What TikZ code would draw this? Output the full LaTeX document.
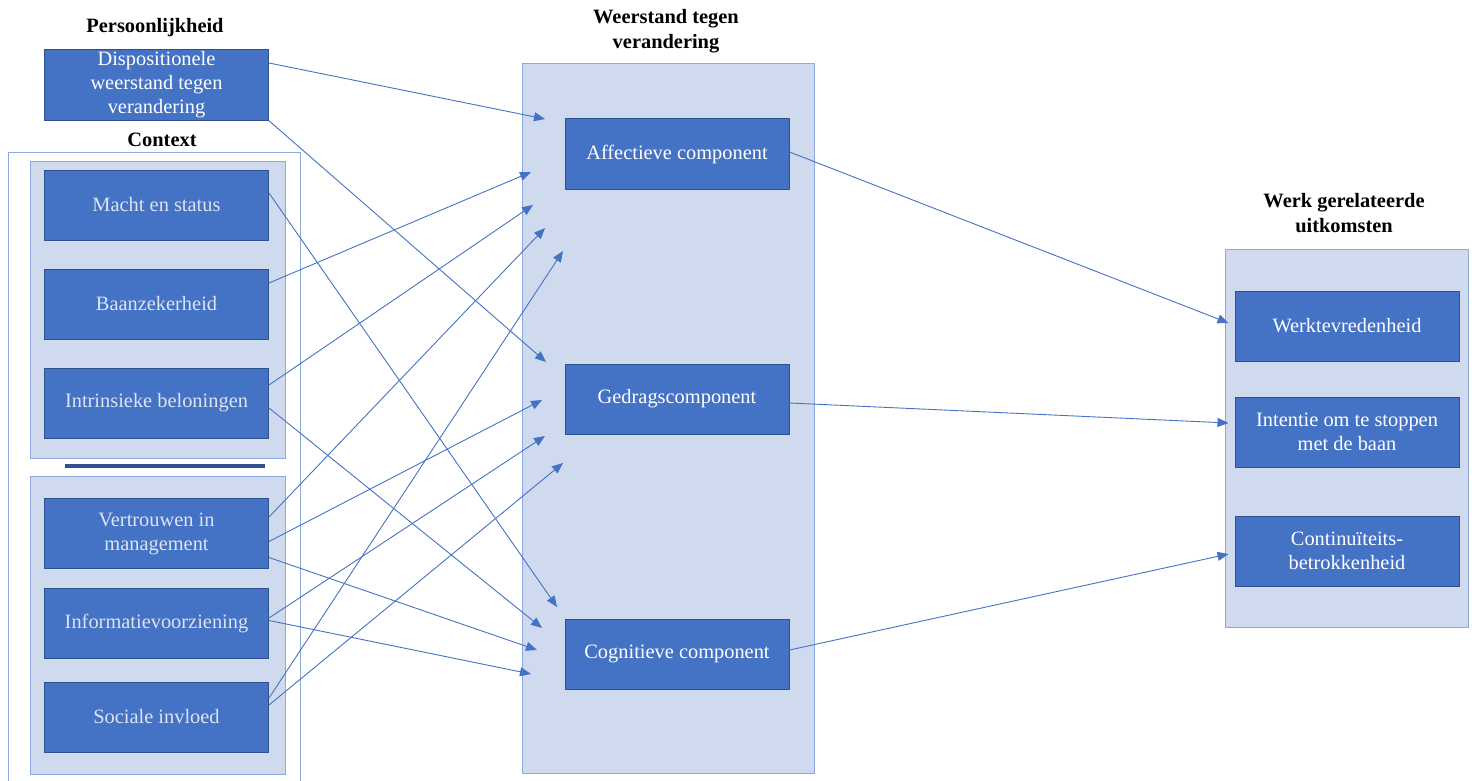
\documentclass[tikz,border=0pt]{standalone}
\usepackage{fontspec}
\setmainfont{Liberation Serif}
\usetikzlibrary{arrows.meta,calc}

\definecolor{boxblue}{HTML}{4472C4}
\definecolor{boxedge}{HTML}{2F528F}
\definecolor{panel}{HTML}{CFDAEE}
\definecolor{paneledge}{HTML}{8EA9DB}
\definecolor{ctxtext}{HTML}{DCE4F2}

\tikzset{
  comp/.style={rectangle, fill=boxblue, draw=boxedge, line width=0.5pt,
    text=white, align=center, minimum width=112pt, minimum height=35pt,
    inner sep=1pt, font=\fontsize{10.2}{12}\selectfont},
  ctx/.style={comp, text=ctxtext},
  kop/.style={align=center, inner sep=0pt, font=\fontsize{10.2}{12.5}\selectfont\bfseries},
  grp/.style={fill=panel, draw=paneledge, line width=0.5pt},
  pijl/.style={draw=boxblue, line width=0.45pt, -{Triangle[length=5.5pt,width=4.5pt]}}
}

\begin{document}
\begin{tikzpicture}[x=0.5pt,y=-0.5pt]
\useasboundingbox (0,0) rectangle (1472,781);

% Draw the panels
        \draw[paneledge, line width=0.5pt] (8,790) -- (8,152) -- (300,152) -- (300,790);
        \draw[grp] (30,161) rectangle (285,458);
        \draw[grp] (30,476) rectangle (285,774);
        \draw[boxedge, line width=1.6pt] (65,466) -- (265,466);
        \draw[grp] (522,64) rectangle (814,773);
        \draw[grp] (1225,249) rectangle (1468,627);

% Draw the titles
        \node[kop] (tpers) at (155,28) {Persoonlijkheid};
        \node[kop] (tctx) at (162,140) {Context};
        \node[kop] (tweer) at (666,31) {Weerstand tegen\\verandering};
        \node[kop] (twerk) at (1344,213) {Werk gerelateerde\\uitkomsten};

% Draw nodes
        \node[comp] (disp) at (156.5,85) {Dispositionele\\weerstand tegen\\verandering};
        \node[ctx] (macht) at (156.5,205) {Macht en status};
        \node[ctx] (baan) at (156.5,304) {Baanzekerheid};
        \node[ctx] (intr) at (156.5,403) {Intrinsieke beloningen};
        \node[ctx] (vert) at (156.5,533.5) {Vertrouwen in\\management};
        \node[ctx] (info) at (156.5,623.5) {Informatievoorziening};
        \node[ctx] (soc) at (156.5,717) {Sociale invloed};

        \node[comp] (aff) at (677,154) {Affectieve component};
        \node[comp] (gedrag) at (677,399) {Gedragscomponent};
        \node[comp] (cogn) at (677,654) {Cognitieve component};

        \node[comp] (tevr) at (1347,326) {Werktevredenheid};
        \node[comp] (stop) at (1347,432) {Intentie om te stoppen\\met de baan};
        \node[comp] (cont) at (1347,551) {Continuïteits-\\betrokkenheid};

% Arrow ends
        \coordinate (a1) at (545,119);
        \coordinate (a2) at (531,172);
        \coordinate (a3) at (533,205);
        \coordinate (a4) at (545,228);
        \coordinate (a5) at (563,251);
        \coordinate (g1) at (546,362);
        \coordinate (g2) at (542,400);
        \coordinate (g3) at (545,436);
        \coordinate (g4) at (563,463);
        \coordinate (c1) at (557,607);
        \coordinate (c2) at (542,628);
        \coordinate (c3) at (537,650);
        \coordinate (c4) at (531,674);

% Draw the arrows
        \draw[pijl] ($(disp.east)+(0,-22)$) -- (a1);
        \draw[pijl] (disp.south east) -- (g1);
        \draw[pijl] ($(macht.east)+(0,-12)$) -- (c1);
        \draw[pijl] ($(baan.east)+(0,-21)$) -- (a2);
        \draw[pijl] ($(intr.east)+(0,-18)$) -- (a3);
        \draw[pijl] ($(intr.east)+(0,5)$) -- (c2);
        \draw[pijl] ($(vert.east)+(0,-16.5)$) -- (a4);
        \draw[pijl] ($(vert.east)+(0,8)$) -- (g2);
        \draw[pijl] ($(vert.east)+(0,24)$) -- (c3);
        \draw[pijl] ($(info.east)+(0,-5.5)$) -- (g3);
        \draw[pijl] ($(info.east)+(0,-3)$) -- (c4);
        \draw[pijl] ($(soc.east)+(0,-19)$) -- (a5);
        \draw[pijl] ($(soc.east)+(0,-12)$) -- (g4);

        \draw[pijl] ($(aff.east)+(0,-2)$) -- ($(tevr.west)+(-6,-3)$);
        \draw[pijl] ($(gedrag.east)+(0,4)$) -- ($(stop.west)+(-6,-9)$);
        \draw[pijl] ($(cogn.east)+(0,-4)$) -- ($(cont.west)+(-6,3)$);
\end{tikzpicture}
\end{document}
